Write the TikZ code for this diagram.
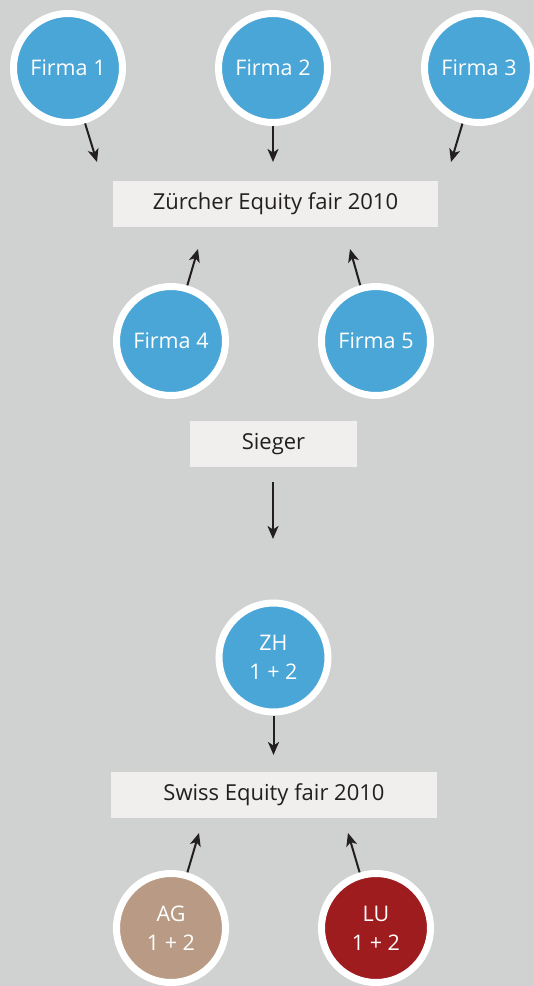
\documentclass[tikz,border=0pt]{standalone}
\usepackage{fontspec}
\setmainfont{Open Sans}
\usetikzlibrary{arrows.meta}
\tikzstyle{chart} = [x = 1pt, y = -1pt]
\definecolor{backColor}{RGB}{208,210,209}
\definecolor{boxColor}{RGB}{240,239,237}
\definecolor{firmBlue}{RGB}{74,166,214}
\definecolor{agColor}{RGB}{185,155,133}
\definecolor{luColor}{RGB}{158,27,30}
\definecolor{textColor}{RGB}{35,31,32}
\tikzstyle{firmStyle} = [circle, draw=white, line width=7pt, minimum size=109pt, inner sep=0pt, text=white, align=center, font=\fontsize{21.5}{29}\selectfont]
\tikzstyle{fairStyle} = [rectangle, fill=boxColor, minimum height=46pt, inner sep=0pt, text=textColor, font=\fontsize{22}{24}\selectfont]
\tikzstyle{arrowStyle} = [-{Stealth[length=13pt, width=11pt, inset=3.5pt]}, line width=2pt, color=textColor]
\newcommand{\firm}[4]{\node [firmStyle, fill=#4] (#1) at (#2) {#3};}
\newcommand{\fair}[4]{\node [fairStyle, minimum width=#3pt] (#1) at (#2) {#4};}

\begin{document}
\begin{tikzpicture}[chart]
  \fill [backColor] (0,0) rectangle (534,986);
  \useasboundingbox (0,0) rectangle (534,986);

  % first round
  \firm{firma1}{68,68}{Firma 1}{firmBlue}
  \firm{firma2}{273,68}{Firma 2}{firmBlue}
  \firm{firma3}{479,68}{Firma 3}{firmBlue}
  \firm{firma4}{171,341}{Firma 4}{firmBlue}
  \firm{firma5}{376,341}{Firma 5}{firmBlue}
  \fair{zef}{275.5,204}{325}{Zürcher Equity fair 2010}
  \fair{sieger}{273.5,444}{167}{Sieger}

  \coordinate (end1) at (97,162);
  \coordinate (end2) at (273,162);
  \coordinate (end3) at (451,162);
  \coordinate (end4) at (198,249);
  \coordinate (end5) at (350,249);
  \foreach \i in {1,...,5} {
    \draw [arrowStyle] (firma\i) -- (end\i);
  }
  \coordinate (siegerStart) at (273,482);
  \coordinate (siegerEnd) at (273,539);
  \draw [arrowStyle] (siegerStart) -- (siegerEnd);

  % final round
  \firm{zh}{273.5,657.5}{ZH\\1 + 2}{firmBlue}
  \firm{ag}{171,928}{AG\\1 + 2}{agColor}
  \firm{lu}{376,928}{LU\\1 + 2}{luColor}
  \fair{sef}{274,795}{326}{Swiss Equity fair 2010}

  \coordinate (zhEnd) at (273.5,755);
  \coordinate (agEnd) at (199,833);
  \coordinate (luEnd) at (348,833);
  \draw [arrowStyle] (zh) -- (zhEnd);
  \draw [arrowStyle] (ag) -- (agEnd);
  \draw [arrowStyle] (lu) -- (luEnd);
\end{tikzpicture}
\end{document}
